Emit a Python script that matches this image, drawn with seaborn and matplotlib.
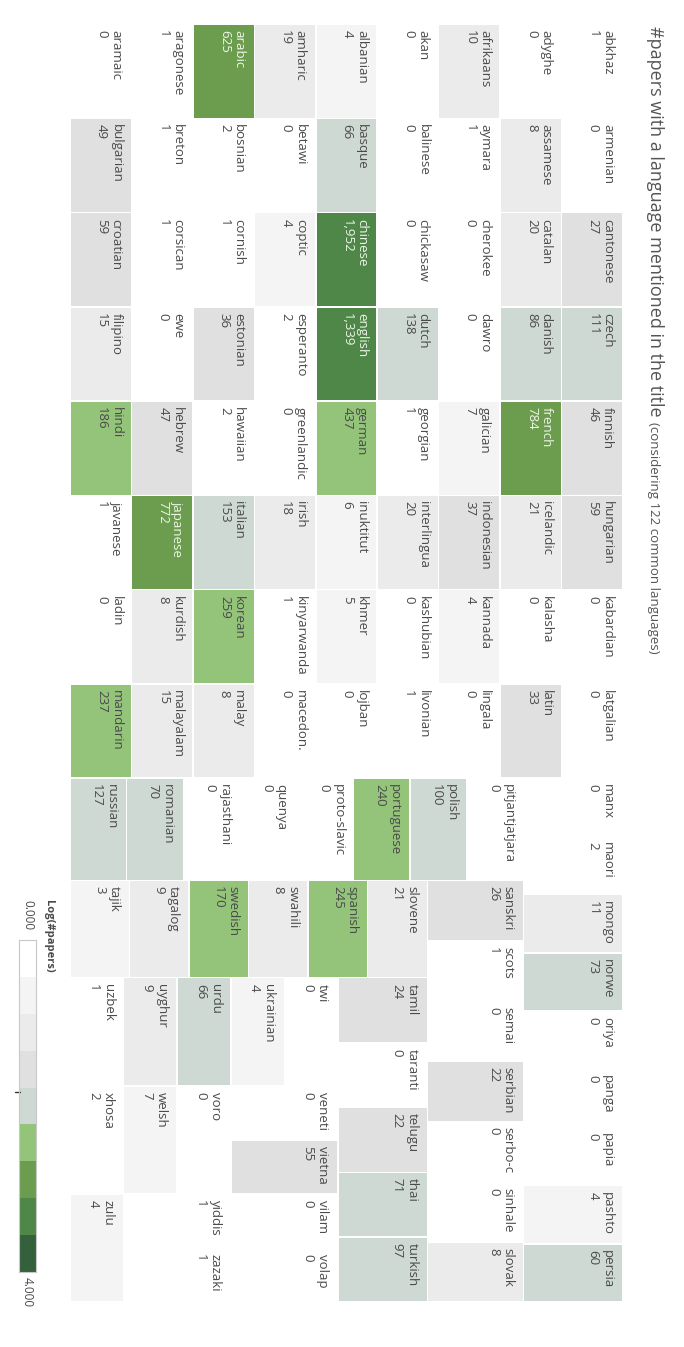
import numpy as np
import matplotlib
matplotlib.use("Agg")
import matplotlib.pyplot as plt
from matplotlib.colors import ListedColormap
from matplotlib.patches import Rectangle
import seaborn as sns

# languages in alphabetical order (as printed in the cells) and #papers
names = [
    "abkhaz", "adyghe", "afrikaans", "akan", "albanian", "amharic", "arabic", "aragonese", "aramaic",
    "armenian", "assamese", "aymara", "balinese", "basque", "betawi", "bosnian", "breton", "bulgarian",
    "cantonese", "catalan", "cherokee", "chickasaw", "chinese", "coptic", "cornish", "corsican", "croatian",
    "czech", "danish", "dawro", "dutch", "english", "esperanto", "estonian", "ewe", "filipino",
    "finnish", "french", "galician", "georgian", "german", "greenlandic", "hawaiian", "hebrew", "hindi",
    "hungarian", "icelandic", "indonesian", "interlingua", "inuktitut", "irish", "italian", "japanese", "javanese",
    "kabardian", "kalasha", "kannada", "kashubian", "khmer", "kinyarwanda", "korean", "kurdish", "ladin",
    "latgalian", "latin", "lingala", "livonian", "lojban", "macedon.", "malay", "malayalam", "mandarin",
    "manx", "maori", "mongo", "norwe", "oriya", "panga", "papia", "pashto", "persia",
    "pitjantjatjara", "polish", "portuguese", "proto-slavic", "quenya", "rajasthani", "romanian", "russian",
    "sanskri", "scots", "semai", "serbian", "serbo-c", "sinhale", "slovak",
    "slovene", "spanish", "swahili", "swedish", "tagalog", "tajik",
    "tamil", "taranti", "telugu", "thai", "turkish",
    "twi", "ukrainian", "urdu", "uyghur", "uzbek",
    "veneti", "vietna", "vilam", "volap",
    "voro", "welsh", "xhosa", "yiddis", "zazaki", "zulu",
]
counts = [
    1, 0, 10, 0, 4, 19, 625, 1, 0,
    0, 8, 1, 0, 66, 0, 2, 1, 49,
    27, 20, 0, 0, 1952, 4, 1, 1, 59,
    111, 86, 0, 138, 1339, 2, 36, 0, 15,
    46, 784, 7, 1, 437, 0, 2, 47, 186,
    59, 21, 37, 20, 6, 18, 153, 772, 1,
    0, 0, 4, 0, 5, 1, 259, 8, 0,
    0, 33, 0, 1, 0, 0, 8, 15, 237,
    0, 2, 11, 73, 0, 0, 0, 4, 60,
    0, 100, 240, 0, 0, 0, 70, 127,
    26, 1, 0, 22, 0, 0, 8,
    21, 245, 8, 170, 9, 3,
    24, 0, 22, 71, 97,
    0, 4, 66, 9, 1,
    0, 55, 0, 0,
    0, 7, 2, 1, 1, 4,
]

log_max = 4.0
bin_colors = ["#ffffff", "#f4f4f4", "#ebebeb", "#e0e0e0", "#cfd9d3",
              "#93c47a", "#6c9d4f", "#4f8748", "#34613c"]
legend_mark = 1.83

sns.set_style("white")
plt.rcParams["font.family"] = ["Open Sans", "DejaVu Sans"]

cmap = ListedColormap(sns.color_palette(bin_colors))
n_bins = len(bin_colors)


def to_bin(c):
    v = np.log10(max(c, 1))
    return int(min(n_bins - 1, np.floor(v / (log_max / n_bins))))


def squarify(values, x0, y0, x1, y1, ratio=(1 + 5 ** 0.5) / 2):
    # same row building as d3.treemapSquarify
    n = len(values)
    rects = [None] * n
    value = float(sum(values))
    i0 = 0
    while i0 < n:
        dx, dy = x1 - x0, y1 - y0
        i1 = i0
        s = values[i1]
        i1 += 1
        vmin = vmax = s
        alpha = max(dy / dx, dx / dy) / (value * ratio)
        beta = s * s * alpha
        best = max(vmax / beta, beta / vmin)
        while i1 < n:
            nv = values[i1]
            s += nv
            vmin, vmax = min(vmin, nv), max(vmax, nv)
            beta = s * s * alpha
            r = max(vmax / beta, beta / vmin)
            if r > best:
                s -= nv
                break
            best = r
            i1 += 1
        if dx < dy:
            ny = y0 + dy * s / value
            xx = x0
            for i in range(i0, i1):
                w = dx * values[i] / s
                rects[i] = (xx, y0, xx + w, ny)
                xx += w
            y0 = ny
        else:
            nx = x0 + dx * s / value
            yy = y0
            for i in range(i0, i1):
                h = dy * values[i] / s
                rects[i] = (x0, yy, nx, yy + h)
                yy += h
            x0 = nx
        value -= s
        i0 = i1
    return rects


W, H = 684, 1347
fig = plt.figure(figsize=(W / 100, H / 100), dpi=100)
ax = fig.add_axes([0, 0, 1, 1])
ax.set_xlim(0, W)
ax.set_ylim(H, 0)
ax.axis("off")

# treemap is laid out in the reading frame (u along text, v across) and then turned
u_start, u_end, v_span, v_edge = 24, 1302, 553, 623
gap = 1.5
rects = squarify([1] * len(names), u_start, 0, u_end, v_span)

for name, c, (u0, v0, u1, v1) in zip(names, counts, rects):
    b = to_bin(c)
    left, right = v_edge - v1, v_edge - v0
    ax.add_patch(Rectangle((left + gap / 2, u0 + gap / 2), right - left - gap, u1 - u0 - gap,
                           facecolor=cmap(b), edgecolor="none"))
    ax.text(right - 9, u0 + 6, f"{name}\n{c:,}", rotation=-90, rotation_mode="anchor",
            ha="left", va="top", fontsize=9.5, linespacing=1.15,
            color="#eef5e8" if b >= 6 else "#4a4a4a")

# title in two sizes
t1 = ax.text(650, 26, "#papers with a language mentioned in the title", rotation=-90,
             rotation_mode="anchor", ha="left", va="baseline", fontsize=13, color="#555555")
fig.canvas.draw()
ext = t1.get_window_extent()
ax.text(650, 26 + ext.height + 5, f"(considering {len(names)} common languages)", rotation=-90,
        rotation_mode="anchor", ha="left", va="baseline", fontsize=9.5, color="#555555")

# legend
lax = fig.add_axes([19 / W, 1 - 1272 / H, 17 / W, 332 / H])
sns.heatmap(np.arange(n_bins).reshape(-1, 1), cmap=cmap, vmin=-0.5, vmax=n_bins - 0.5,
            cbar=False, xticklabels=False, yticklabels=False, ax=lax)
for sp in lax.spines.values():
    sp.set_visible(True)
    sp.set_color("#c8c8c8")
    sp.set_linewidth(0.8)
lax.plot([-0.25, 0.05], [legend_mark / log_max * n_bins] * 2, color="#333333", lw=1, clip_on=False)

ax.text(54, 900, "Log(#papers)", rotation=-90, rotation_mode="anchor", ha="left", va="top",
        fontsize=8, fontweight="bold", color="#4a4a4a")
ax.text(34, 900, f"{0:.3f}", rotation=-90, rotation_mode="anchor", ha="left", va="top",
        fontsize=8.5, color="#4a4a4a")
ax.text(34, 1277, f"{log_max:.3f}", rotation=-90, rotation_mode="anchor", ha="left", va="top",
        fontsize=8.5, color="#4a4a4a")

fig.savefig("out.png", dpi=100)
